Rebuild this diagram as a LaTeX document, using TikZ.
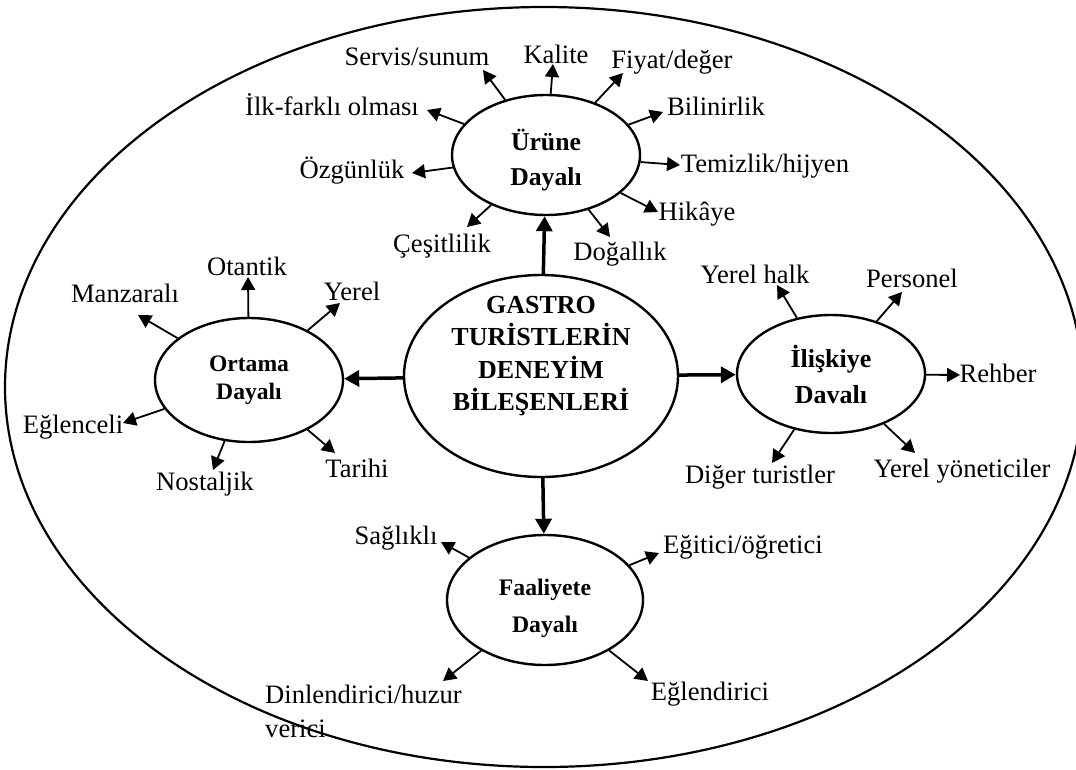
\documentclass[tikz,border=0pt]{standalone}
\usepackage{fontspec}
\setmainfont{Liberation Serif}
\usetikzlibrary{arrows.meta,shapes.geometric}

\begin{document}
\begin{tikzpicture}[x=1pt, y=-1pt,
    oval/.style={draw, ellipse, line width=2.4pt, inner sep=0pt, align=center},
    sub/.style 2 args={oval, font=\fontsize{#1}{#2}\selectfont\bfseries},
    lbl/.style={anchor=base, inner sep=0pt, font=\fontsize{26.6}{34}\selectfont},
    link/.style={-{Triangle[length=13pt,width=14pt]}, line width=1.8pt},
    main/.style={-{Triangle[length=15pt,width=16pt]}, line width=3.5pt}
]
\useasboundingbox (0,0) rectangle (1076,769);

% outer frame
\node[oval, line width=2.2pt, minimum width=1078pt, minimum height=760pt] (frame) at (544,387) {};

% centre
\node[oval, minimum width=274pt, minimum height=202pt] (gastro) at (541,376) {};
\node[inner sep=0pt, align=center, font=\fontsize{26}{32.5}\selectfont\bfseries] (gastroTxt) at (541,356) {GASTRO\\TURİSTLERİN\\DENEYİM\\BİLEŞENLERİ};

% four groups
\node[sub={25.7}{35}, minimum width=188pt, minimum height=120pt] (urune) at (546,155) {\rule{0pt}{32pt}Ürüne\\Dayalı};
\node[sub={23.6}{28}, minimum width=188pt, minimum height=124pt] (ortama) at (249,380) {Ortama\\Dayalı};
\node[sub={26}{36}, minimum width=188pt, minimum height=118pt] (iliski) at (831,374) {İlişkiye\\Davalı};
\node[sub={23.7}{37}, minimum width=196pt, minimum height=130pt] (faaliyet) at (545,600) {\rule{0pt}{34pt}Faaliyete\\Dayalı};

\draw[main] (gastro) -- (urune);
\draw[main] (gastro) -- (ortama);
\draw[main] (gastro) -- (iliski);
\draw[main] (gastro) -- (faaliyet);

% urune dayali
\node[lbl] (kalite) at (556,63) {Kalite};
\node[lbl] (servis) at (417,65) {Servis/sunum};
\node[lbl] (fiyat) at (672,68) {Fiyat/değer};
\node[lbl] (bilinir) at (716,115) {Bilinirlik};
\node[lbl] (temizlik) at (765,172) {Temizlik/hijyen};
\node[lbl] (hikaye) at (697,220) {Hikâye};
\node[lbl] (dogallik) at (620,260) {Doğallık};
\node[lbl] (cesit) at (442,252) {Çeşitlilik};
\node[lbl] (ozgun) at (352,178) {Özgünlük};
\node[lbl] (ilk) at (332,115) {İlk-farklı olması};
\coordinate (kaliteEnd) at (553,64);
\coordinate (servisEnd) at (483,70);
\coordinate (fiyatEnd) at (623,73);
\coordinate (bilinirEnd) at (663,112);
\coordinate (temizlikEnd) at (680,165);
\coordinate (hikayeEnd) at (658,212);
\coordinate (dogallikEnd) at (610,237);
\coordinate (cesitEnd) at (467,227);
\coordinate (ozgunEnd) at (412,173);
\coordinate (ilkEnd) at (427,110);
\draw[link] (urune) -- (kaliteEnd);
\draw[link] (urune) -- (servisEnd);
\draw[link] (urune) -- (fiyatEnd);
\draw[link] (urune) -- (bilinirEnd);
\draw[link] (urune) -- (temizlikEnd);
\draw[link] (urune) -- (hikayeEnd);
\draw[link] (urune) -- (dogallikEnd);
\draw[link] (urune) -- (cesitEnd);
\draw[link] (urune) -- (ozgunEnd);
\draw[link] (urune) -- (ilkEnd);

% ortama dayali
\node[lbl] (otantik) at (247,275) {Otantik};
\node[lbl] (yerel) at (352,300) {Yerel};
\node[lbl] (manzara) at (125,302) {Manzaralı};
\node[lbl] (eglenceli) at (73,433) {Eğlenceli};
\node[lbl] (nostalji) at (205,490) {Nostaljik};
\node[lbl] (tarihi) at (357,477) {Tarihi};
\coordinate (otantikEnd) at (248,277);
\coordinate (yerelEnd) at (340,303);
\coordinate (manzaraEnd) at (138,315);
\coordinate (eglenceliEnd) at (123,423);
\coordinate (nostaljiEnd) at (213,470);
\coordinate (tarihiEnd) at (335,453);
\draw[link] (ortama) -- (otantikEnd);
\draw[link] (ortama) -- (yerelEnd);
\draw[link] (ortama) -- (manzaraEnd);
\draw[link] (ortama) -- (eglenceliEnd);
\draw[link] (ortama) -- (nostaljiEnd);
\draw[link] (ortama) -- (tarihiEnd);

% iliskiye dayali
\node[lbl] (halk) at (755,283) {Yerel halk};
\node[lbl] (personel) at (912,287) {Personel};
\node[lbl] (rehber) at (998,382) {Rehber};
\node[lbl] (diger) at (760,483) {Diğer turistler};
\node[lbl] (yonetici) at (962,477) {Yerel yöneticiler};
\coordinate (halkEnd) at (777,285);
\coordinate (personelEnd) at (902,292);
\coordinate (rehberEnd) at (960,375);
\coordinate (digerEnd) at (772,463);
\coordinate (yoneticiEnd) at (915,453);
\draw[link] (iliski) -- (halkEnd);
\draw[link] (iliski) -- (personelEnd);
\draw[link] (iliski) -- (rehberEnd);
\draw[link] (iliski) -- (digerEnd);
\draw[link] (iliski) -- (yoneticiEnd);

% faaliyete dayali
\node[lbl] (saglikli) at (396,544) {Sağlıklı};
\node[lbl] (egitici) at (743,553) {Eğitici/öğretici};
\node[lbl, anchor=base west, align=left] (dinlen) at (265,737) {Dinlendirici/huzur\\verici};
\node[lbl] (eglendirici) at (710,700) {Eğlendirici};
\coordinate (saglikliEnd) at (441,542);
\coordinate (egiticiEnd) at (659,553);
\coordinate (dinlenEnd) at (443,681);
\coordinate (eglendiriciEnd) at (648,681);
\draw[link] (faaliyet) -- (saglikliEnd);
\draw[link] (faaliyet) -- (egiticiEnd);
\draw[link] (faaliyet) -- (dinlenEnd);
\draw[link] (faaliyet) -- (eglendiriciEnd);
\end{tikzpicture}
\end{document}
